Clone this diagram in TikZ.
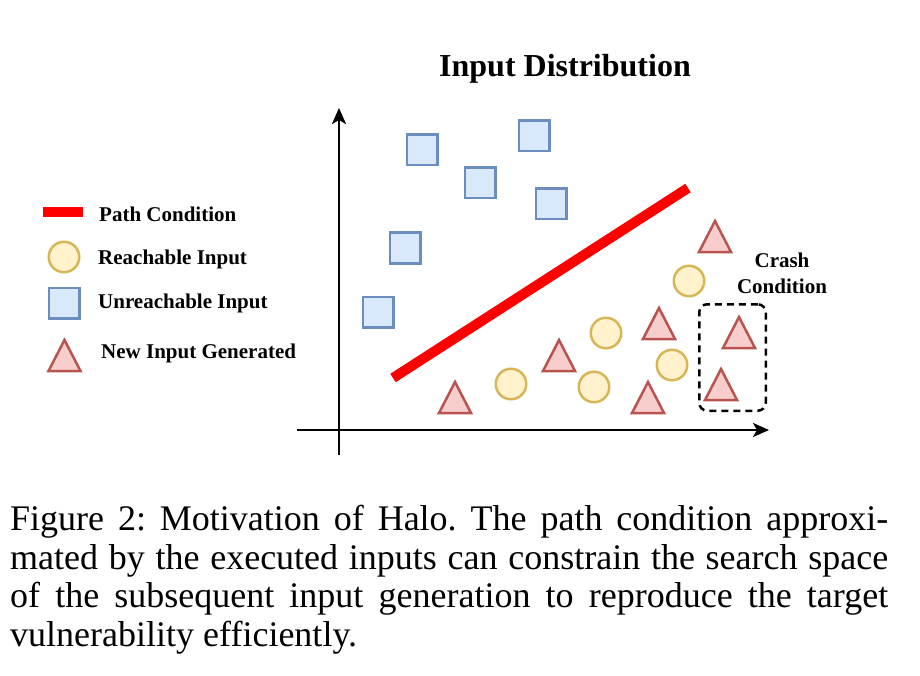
\documentclass[tikz,border=0pt]{standalone}
\usepackage{fontspec}
\setmainfont{Liberation Serif}
\usepackage{tikz}
\usetikzlibrary{arrows.meta,shapes.geometric}

\definecolor{reachfill}{HTML}{FFF2CC}
\definecolor{reachline}{HTML}{D6B656}
\definecolor{unreachfill}{HTML}{DAE8FC}
\definecolor{unreachline}{HTML}{6C8EBF}
\definecolor{newfill}{HTML}{F8CECC}
\definecolor{newline}{HTML}{B85450}

\begin{document}
\begin{tikzpicture}[x=1pt,y=-1pt,
  reach/.style={circle,draw=reachline,fill=reachfill,line width=2.5pt,minimum size=30.5pt,inner sep=0pt,outer sep=0pt},
  unreach/.style={rectangle,draw=unreachline,fill=unreachfill,line width=2.5pt,minimum size=30.5pt,inner sep=0pt,outer sep=0pt},
  newin/.style={isosceles triangle,isosceles triangle stretches,shape border rotate=90,minimum width=32pt,minimum height=31pt,inner sep=0pt,outer sep=0pt,anchor=apex,draw=newline,fill=newfill,line width=2.5pt},
  legtext/.style={anchor=base west,inner sep=0pt,font=\fontsize{21}{25}\selectfont\bfseries},
  axis/.style={line width=2.7pt,-{Stealth[length=16pt,width=14pt,inset=4pt]}},
  pathcond/.style={line width=10pt,red}]
  \useasboundingbox (0,0) rectangle (920,676);
  % title
  \node[anchor=base,inner sep=0pt,font=\fontsize{32}{38}\selectfont\bfseries] (title) at (565,77) {Input Distribution};
  % legend
  \coordinate (la) at (43,212);
  \coordinate (lb) at (83,212);
     \draw[pathcond] (la) -- (lb);
  \node[reach] (lgc) at (64,257) {};
  \node[unreach] (lgs) at (64,303) {};
  \node[newin] (lgt) at (64.5,340) {};
  \node[legtext] (tpath) at (99,222) {Path Condition};
  \node[legtext] (treach) at (98,265) {Reachable Input};
  \node[legtext] (tunreach) at (98,308) {Unreachable Input};
  \node[legtext] (tnew) at (101,358) {New Input Generated};
  % axes
  \coordinate (ybot) at (339,455);
  \coordinate (ytop) at (339,108);
  \coordinate (xleft) at (297,430);
  \coordinate (xright) at (769,430);
     \draw[axis] (ybot) -- (ytop);
     \draw[axis] (xleft) -- (xright);
  % path condition
  \coordinate (pa) at (393,378);
  \coordinate (pb) at (688,188);
     \draw[pathcond] (pa) -- (pb);
  % unreachable inputs
  \node[unreach] (sq1) at (422,150) {};
  \node[unreach] (sq2) at (480,183) {};
  \node[unreach] (sq3) at (534,136) {};
  \node[unreach] (sq4) at (551,204) {};
  \node[unreach] (sq5) at (405,248) {};
  \node[unreach] (sq6) at (378,312) {};
  % reachable inputs
  \node[reach] (c1) at (511,384) {};
  \node[reach] (c2) at (594,387) {};
  \node[reach] (c3) at (606,333) {};
  \node[reach] (c4) at (672,365) {};
  \node[reach] (c5) at (689,281) {};
  % new inputs
  \node[newin] (t1) at (455,382) {};
  \node[newin] (t2) at (559,340) {};
  \node[newin] (t3) at (659,308) {};
  \node[newin] (t4) at (648,382) {};
  \node[newin] (t5) at (715,221) {};
  \node[newin] (t6) at (739,317) {};
  \node[newin] (t7) at (721,369) {};
  % crash condition
  \node[rectangle,draw=black,line width=2.5pt,dash pattern=on 7pt off 5pt,rounded corners=8pt,minimum width=66.5pt,minimum height=106.5pt,inner sep=0pt] (crashbox) at (732.5,357.5) {};
  \node[align=center,inner sep=0pt,font=\fontsize{21}{26}\selectfont\bfseries] (crash) at (782,273) {Crash\\Condition};
  % caption
  \node[anchor=north west,inner sep=0pt,text width=878pt,align=justify,font=\fontsize{36}{38.7}\selectfont\frenchspacing] (caption) at (10,505)
    {\noindent Figure 2: Motivation of Halo. The path condition approxi-\linebreak mated by the executed inputs can constrain the search space\linebreak of the subsequent input generation to reproduce the target\linebreak vulnerability efficiently.};
\end{tikzpicture}
\end{document}
